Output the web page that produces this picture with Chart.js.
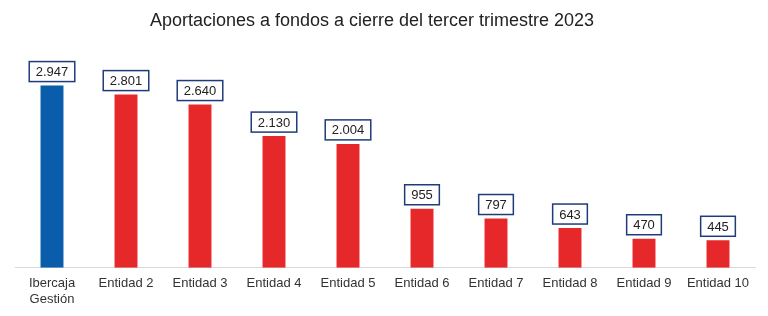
<!DOCTYPE html>
<html>
<head>
<meta charset="utf-8">
<script src="https://cdn.jsdelivr.net/npm/chart.js@4"></script>
<style>
  html, body { margin: 0; padding: 0; background: #fff; }
  #wrap { width: 768px; height: 316px; }
</style>
</head>
<body>
<div id="wrap"><canvas id="aportChart"></canvas></div>
<script>
const titulo = 'Aportaciones a fondos a cierre del tercer trimestre 2023';
const categorias = [['Ibercaja', 'Gestión'], 'Entidad 2', 'Entidad 3', 'Entidad 4', 'Entidad 5',
  'Entidad 6', 'Entidad 7', 'Entidad 8', 'Entidad 9', 'Entidad 10'];
const aportaciones = [2947, 2801, 2640, 2130, 2004, 955, 797, 643, 470, 445];
const etiquetas = ['2.947', '2.801', '2.640', '2.130', '2.004', '955', '797', '643', '470', '445'];

const colores = aportaciones.map((v, i) => i === 0 ? '#0A5DAA' : '#E6282B');
const fuente = '"Liberation Sans", Arial, sans-serif';

// titulo algo desplazado a la izquierda, como en el original
const tituloPlugin = {
  id: 'tituloPlugin',
  afterDraw(chart) {
    const ctx = chart.ctx;
    ctx.save();
    ctx.font = '18px ' + fuente;
    ctx.fillStyle = '#222';
    ctx.textAlign = 'center';
    ctx.textBaseline = 'middle';
    ctx.fillText(titulo, 372, 21);
    ctx.restore();
  }
};

// cajas con el valor encima de cada barra
const cajasValor = {
  id: 'cajasValor',
  afterDatasetsDraw(chart) {
    const ctx = chart.ctx;
    const meta = chart.getDatasetMeta(0);
    ctx.save();
    ctx.font = '13px ' + fuente;
    ctx.textAlign = 'center';
    ctx.textBaseline = 'middle';
    meta.data.forEach((bar, i) => {
      const txt = etiquetas[i];
      const w = ctx.measureText(txt).width + 13;
      const h = 20;
      const x = bar.x - w / 2;
      const y = bar.y - 4 - h;
      ctx.fillStyle = '#fff';
      ctx.fillRect(x, y, w, h);
      ctx.strokeStyle = '#1F3B7A';
      ctx.lineWidth = 1.5;
      ctx.strokeRect(x, y, w, h);
      ctx.fillStyle = '#222';
      ctx.fillText(txt, bar.x, y + h / 2 + 1);
    });
    ctx.restore();
  }
};

new Chart(document.getElementById('aportChart'), {
  type: 'bar',
  data: {
    labels: categorias,
    datasets: [{
      label: 'Aportaciones',
      data: aportaciones,
      backgroundColor: colores,
      barPercentage: 0.62,
      categoryPercentage: 0.5
    }]
  },
  options: {
    responsive: true,
    maintainAspectRatio: false,
    animation: false,
    layout: { padding: { left: 15, right: 13, top: 52, bottom: 1 } },
    plugins: {
      legend: { display: false },
      tooltip: { enabled: false },
      title: { display: false }
    },
    scales: {
      x: {
        grid: { display: false, drawTicks: false },
        border: { display: true, color: '#d9d9d9', width: 1 },
        ticks: {
          color: '#333',
          padding: 8,
          maxRotation: 0,
          autoSkip: false,
          font: { family: fuente, size: 13 }
        }
      },
      y: {
        display: false,
        min: 0,
        max: 3490
      }
    }
  },
  plugins: [cajasValor, tituloPlugin]
});
</script>
</body>
</html>
